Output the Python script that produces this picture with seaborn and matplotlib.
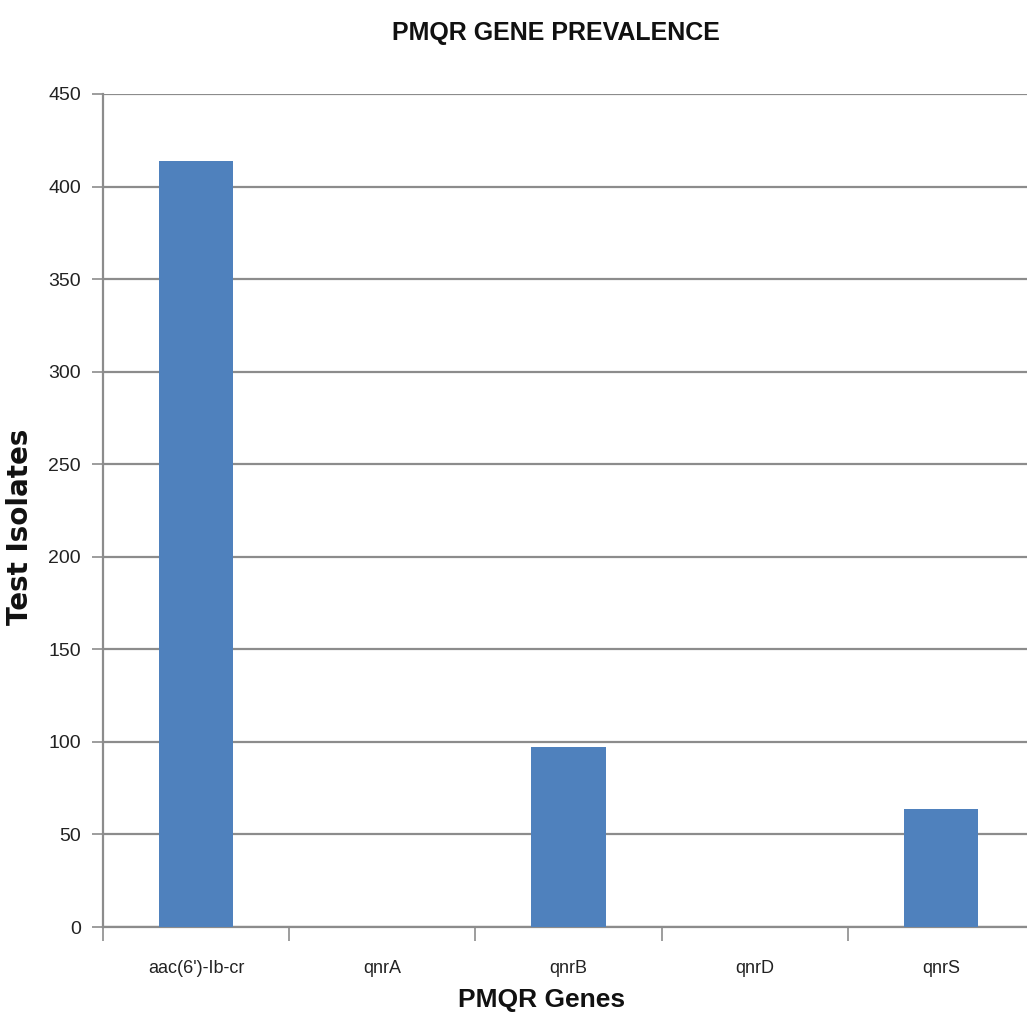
import matplotlib
matplotlib.use("Agg")
import matplotlib.pyplot as plt
import seaborn as sns
import pandas as pd
import numpy as np

genes = ["aac(6')-Ib-cr", "qnrA", "qnrB", "qnrD", "qnrS"]
isolates = [414, 0, 97, 0, 64]
y_ticks = [0, 50, 100, 150, 200, 250, 300, 350, 400, 450]

sns.set_theme(style="white")
plt.rcParams['font.family'] = ['Liberation Sans', 'DejaVu Sans']

df = pd.DataFrame({"gene": genes, "isolates": isolates})

fig = plt.figure(figsize=(10.27, 10.19), dpi=100)
ax = fig.add_axes([103 / 1027, 1 - 927 / 1019, (1034 - 103) / 1027, (927 - 94) / 1019])

sns.barplot(data=df, x="gene", y="isolates", color="#4F81BD", width=0.4,
            saturation=1, ax=ax, zorder=3, linewidth=0)

ax.set_xlim(-0.5, 4.5)
ax.set_ylim(0, 450)
ax.set_yticks(y_ticks)
ax.set_yticklabels([str(v) for v in y_ticks], fontsize=14, color="#222222")
ax.yaxis.grid(True, color="#8c8c8c", linewidth=1.6, zorder=0)
ax.xaxis.grid(False)

# category labels sit between boundary tick marks
ax.set_xticks(range(len(genes)))
ax.set_xticklabels(genes, fontsize=13, color="#222222")
ax.tick_params(axis="x", which="major", length=0, pad=24)
ax.set_xticks(np.arange(-0.5, 5.0, 1.0), minor=True)
ax.tick_params(axis="x", which="minor", bottom=True, direction="out",
               length=10, width=1.2, color="#8c8c8c")
ax.tick_params(axis="y", length=8, width=1.2, color="#8c8c8c", left=True, pad=8)

for side in ["top", "right"]:
    ax.spines[side].set_visible(False)
for side in ["left", "bottom"]:
    ax.spines[side].set_color("#8c8c8c")
    ax.spines[side].set_linewidth(1.6)

ax.set_ylabel("Test Isolates", fontsize=20, fontweight="bold",
              family="DejaVu Sans", color="#111111")
ax.yaxis.set_label_coords(-83 / 931, (927 - 527) / 833)
ax.yaxis.label.set_va("center")
ax.set_xlabel("PMQR Genes", fontsize=19, fontweight="bold", color="#111111")
ax.xaxis.set_label_coords((542 - 103) / 931, -(1000 - 927) / 833)
ax.xaxis.label.set_va("center")

fig.text(0.541, 0.968, "PMQR GENE PREVALENCE", ha="center", va="center",
         fontsize=18, fontweight="bold", color="#111111")

fig.savefig("out.png", dpi=100)
